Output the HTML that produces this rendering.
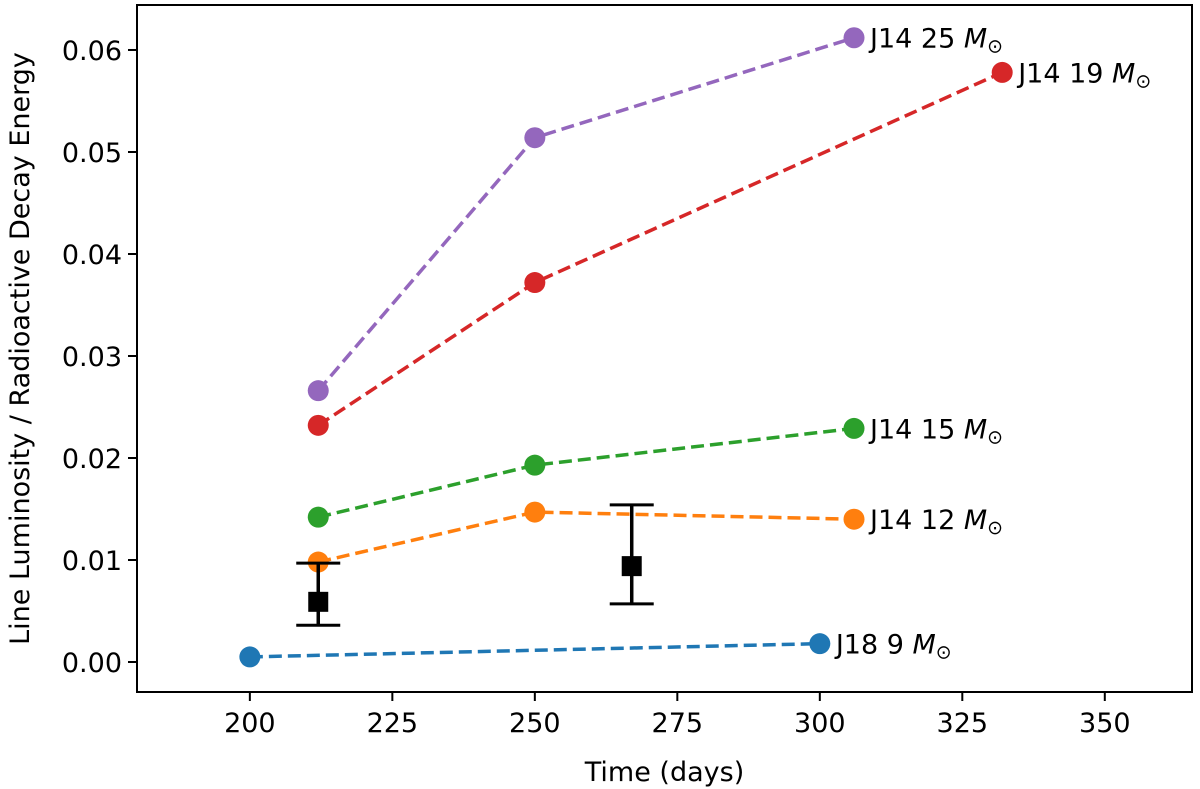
<!DOCTYPE html>
<html><head><meta charset="utf-8">
<style>
html,body{margin:0;padding:0;background:#fff;}
svg{display:block;font-family:"DejaVu Sans","Liberation Sans",sans-serif;}
</style></head>
<body>
<svg id="chart" width="1200" height="789" viewBox="0 0 1200 789"></svg>
<script>
const seriesNames = ["J18 9", "J14 12", "J14 15", "J14 19", "J14 25"];
const seriesColors = ["#1f77b4", "#ff7f0e", "#2ca02c", "#d62728", "#9467bd"];
const seriesX = [[200, 300], [212, 250, 306], [212, 250, 306], [212, 250, 332], [212, 250, 306]];
const seriesY = [[0.0005, 0.0018], [0.0098, 0.0147, 0.0140], [0.0142, 0.0193, 0.0229], [0.0232, 0.0372, 0.0578], [0.0266, 0.0514, 0.0612]];
const obsX = [212, 267];
const obsY = [0.0059, 0.0094];
const obsLow = [0.0036, 0.0057];
const obsHigh = [0.0097, 0.0154];
const xTicks = [200, 225, 250, 275, 300, 325, 350];
const yTicks = [0, 0.01, 0.02, 0.03, 0.04, 0.05, 0.06];

const L = 137, R = 1192, T = 5, B = 692;
const xMin = 180.2, xMax = 365.3, yMin = -0.00294, yMax = 0.06441;
const sx = v => L + (v - xMin) / (xMax - xMin) * (R - L);
const sy = v => B - (v - yMin) / (yMax - yMin) * (B - T);
const svg = document.getElementById('chart');
const NS = 'http://www.w3.org/2000/svg';
function mk(tag, attrs, parent) {
  const e = document.createElementNS(NS, tag);
  for (const k in attrs) e.setAttribute(k, attrs[k]);
  (parent || svg).appendChild(e);
  return e;
}
xTicks.forEach(t => {
  const g = mk('g', {});
  
  
  mk('line', {x1: sx(t), x2: sx(t), y1: B, y2: B + 9, stroke: '#000', 'stroke-width': 2}, g);
  const tx = mk('text', {x: sx(t), y: B + 40, 'text-anchor': 'middle', 'font-size': 27}, g);
  tx.textContent = t;
});
yTicks.forEach(t => {
  const g = mk('g', {});
  
  
  mk('line', {x1: L - 9, x2: L, y1: sy(t), y2: sy(t), stroke: '#000', 'stroke-width': 2}, g);
  const tx = mk('text', {x: L - 15, y: sy(t) + 10, 'text-anchor': 'end', 'font-size': 27}, g);
  tx.textContent = t.toFixed(2);
});
seriesNames.forEach((n, i) => {
  const g = mk('g', {});
  
  
  const pts = seriesX[i].map((x, j) => sx(x) + ',' + sy(seriesY[i][j])).join(' ');
  mk('polyline', {points: pts, fill: 'none', stroke: seriesColors[i], 'stroke-width': 3.5, 'stroke-dasharray': '13,6'}, g);
  seriesX[i].forEach((x, j) => {
    const c = mk('circle', {cx: sx(x), cy: sy(seriesY[i][j]), r: 10.5, fill: seriesColors[i]}, g);
    
    
  });
  const last = seriesX[i].length - 1;
  const lab = mk('text', {x: sx(seriesX[i][last]) + 16, y: sy(seriesY[i][last]) + 10, 'font-size': 27}, g);
  
  
  lab.innerHTML = n + ' <tspan font-style="italic">M</tspan><tspan font-size="19" dy="5">⊙</tspan>';
});
obsX.forEach((x, i) => {
  const g = mk('g', {});
  
  
  const cx = sx(x);
  mk('line', {x1: cx, x2: cx, y1: sy(obsLow[i]), y2: sy(obsHigh[i]), stroke: '#000', 'stroke-width': 3.5}, g);
  mk('line', {x1: cx - 22, x2: cx + 22, y1: sy(obsLow[i]), y2: sy(obsLow[i]), stroke: '#000', 'stroke-width': 3}, g);
  mk('line', {x1: cx - 22, x2: cx + 22, y1: sy(obsHigh[i]), y2: sy(obsHigh[i]), stroke: '#000', 'stroke-width': 3}, g);
  mk('rect', {x: cx - 10, y: sy(obsY[i]) - 10, width: 20, height: 20, fill: '#000'}, g);
});
const f = mk('rect', {x: L, y: T, width: R - L, height: B - T, fill: 'none', stroke: '#000', 'stroke-width': 2});


const xt = mk('text', {x: (L + R) / 2, y: 781, 'text-anchor': 'middle', 'font-size': 27});


xt.textContent = 'Time (days)';
const yt = mk('text', {x: 0, y: 0, 'text-anchor': 'middle', 'font-size': 27, transform: 'translate(29,' + ((T + B) / 2) + ') rotate(-90)'});


yt.textContent = 'Line Luminosity / Radioactive Decay Energy';
</script>
</body></html>
